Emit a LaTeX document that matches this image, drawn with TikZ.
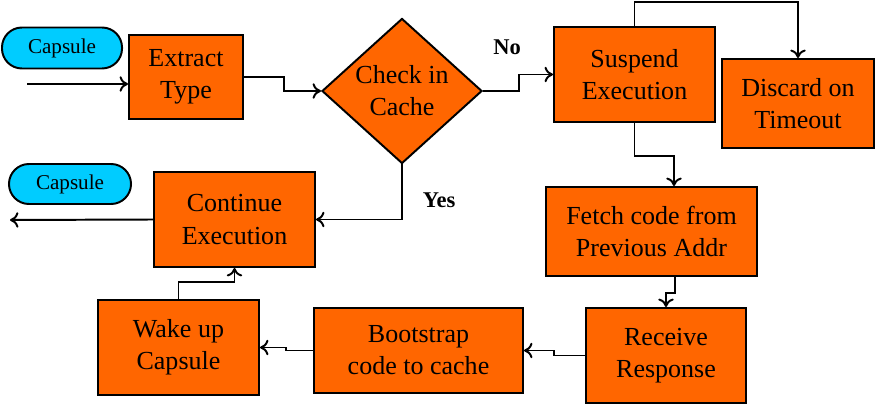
\documentclass[tikz,border=0pt]{standalone}
\usepackage{fontspec}
\setmainfont{Liberation Serif}
\usetikzlibrary{shapes.geometric,calc,arrows.meta}
\definecolor{boxorange}{HTML}{FF6600}
\definecolor{capcyan}{HTML}{00CCFF}
\tikzset{
  stepbox/.style={draw,line width=1.4pt,fill=boxorange,align=center,inner sep=0pt,
    font=\fontsize{18.5}{22.8}\selectfont},
  capsule/.style={draw,line width=1.4pt,fill=capcyan,rounded corners=0.5cm,inner sep=0pt,
    font=\fontsize{15}{18}\selectfont},
  decision/.style={diamond,draw,line width=1.4pt,fill=boxorange,align=center,inner sep=0pt,
    minimum width=4cm,minimum height=3.625cm,font=\fontsize{18.5}{22.8}\selectfont},
  flow/.style={-{To[length=6pt,width=11pt]},line width=1.4pt},
  answer/.style={font=\bfseries\fontsize{16}{19}\selectfont}
}
\begin{document}
\begin{tikzpicture}[x=0.025cm,y=-0.025cm]
\useasboundingbox (0,0) rectangle (875,405);
\coordinate (in) at (27,84);
\coordinate (out) at (10,220);

\node [capsule,minimum width=3cm,minimum height=1.025cm](capin) at (62,48) {Capsule};
\node [capsule,minimum width=3.05cm,minimum height=1cm](capout) at (70,184) {Capsule};

\node [stepbox,minimum width=2.85cm,minimum height=2.1cm](extract) at (186,77) {Extract\\Type};
\node [decision](check) at (402,91) {Check in\\Cache};
\node [stepbox,minimum width=4.025cm,minimum height=2.375cm](suspend) at (634.5,74.5) {Suspend\\Execution};
\node [stepbox,minimum width=3.8cm,minimum height=2.225cm](discard) at (798,103.5) {Discard on\\Timeout};
\node [stepbox,minimum width=5.275cm,minimum height=2.225cm](fetch) at (651.5,231.5) {Fetch code from\\Previous Addr};
\node [stepbox,minimum width=4cm,minimum height=2.375cm](receive) at (666,355.5) {Receive\\Response};
\node [stepbox,minimum width=5.225cm,minimum height=2.125cm](bootstrap) at (418.5,350.5) {Bootstrap\\code to cache};
\node [stepbox,minimum width=4.025cm,minimum height=2.375cm](wake) at (178.5,347.5) {Wake up\\Capsule};
\node [stepbox,minimum width=4.025cm,minimum height=2.375cm](continue) at (234.5,219.5) {Continue\\Execution};

\node [answer](no) at (507,47) {No};
\node [answer](yes) at (439,200) {Yes};

\draw [flow] (in) -- (in -| extract.west);
\draw [flow] (extract.east) -- ++(40,0) |- (check.west);
\draw [flow] (check.east) -- ++(36,0) |- (suspend.west);
\draw [flow] (suspend.north) -- ++(0,-24) -| (discard.north);
\draw [flow] (suspend.south) -- ++(0,33) -| ($(fetch.north)+(22.5,0)$);
\draw [flow] ($(fetch.south)+(23.5,0)$) -- ++(0,16) -| (receive.north);
\draw [flow] (receive.west) -- ++(-31,0) |- (bootstrap.east);
\draw [flow] (bootstrap.west) -- ++(-27,0) |- (wake.east);
\draw [flow] (wake.north) -- ++(0,-17) -| (continue.south);
\draw [flow] (check.south) |- (continue.east);%yes
\draw [flow] (continue.west) -- (out);
\end{tikzpicture}
\end{document}
